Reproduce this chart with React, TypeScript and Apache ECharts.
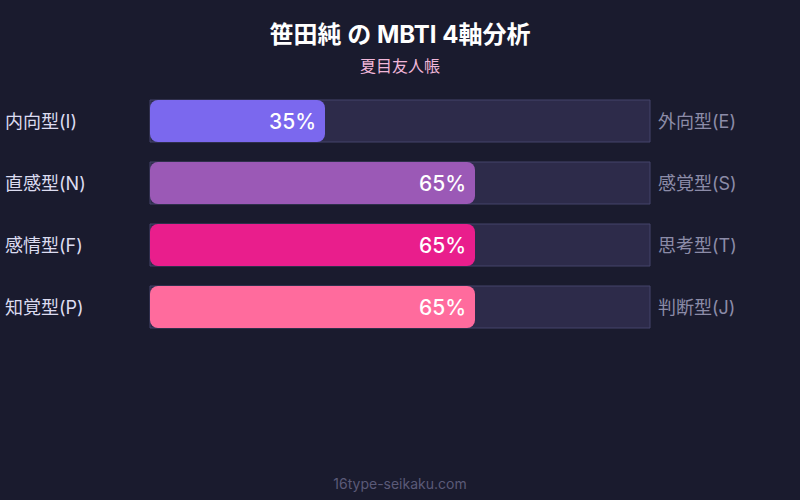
import { useEffect, useRef } from 'react';
import * as echarts from 'echarts';

const leftLabels = ['内向型(I)', '直感型(N)', '感情型(F)', '知覚型(P)'];
const rightLabels = ['外向型(E)', '感覚型(S)', '思考型(T)', '判断型(J)'];
const values = [35, 65, 65, 65];
const barColors = ['#7b68ee', '#9b59b6', '#e91e8c', '#ff6b9d'];

const FONT = "Inter, 'Noto Sans CJK JP', 'Noto Sans', sans-serif";

export default function App() {
  const ref = useRef<HTMLDivElement>(null);

  useEffect(() => {
    if (!ref.current) return;
    const chart = echarts.init(ref.current, null, { renderer: 'svg' });

    chart.setOption({
      animation: false,
      backgroundColor: '#1a1b2e',
      textStyle: { fontFamily: FONT },
      title: {
        text: '笹田純 の MBTI 4軸分析',
        subtext: '夏目友人帳',
        left: 'center',
        top: 17,
        itemGap: 12,
        textStyle: { color: '#ffffff', fontSize: 24, fontWeight: 'bold', fontFamily: FONT },
        subtextStyle: { color: '#f0b6d8', fontSize: 16, fontFamily: FONT },
      },
      graphic: [
        {
          type: 'text',
          left: 'center',
          top: 476,
          style: { text: '16type-seikaku.com', fill: '#5a5a78', fontSize: 14, fontFamily: FONT },
        },
      ],
      grid: { left: 150, right: 150, top: 90, height: 248 },
      xAxis: { type: 'value', min: 0, max: 100, show: false },
      yAxis: [
        {
          type: 'category',
          data: leftLabels,
          inverse: true,
          position: 'left',
          axisLine: { show: false },
          axisTick: { show: false },
          axisLabel: { color: '#dcdcf0', fontSize: 18, align: 'left', margin: 145, fontFamily: FONT },
        },
        {
          type: 'category',
          data: rightLabels,
          inverse: true,
          position: 'right',
          axisLine: { show: false },
          axisTick: { show: false },
          axisLabel: { color: '#8c8ca8', fontSize: 18, align: 'left', margin: 8, fontFamily: FONT },
        },
      ],
      series: [
        {
          type: 'bar',
          yAxisIndex: 0,
          barWidth: 42,
          data: values.map((v, i) => ({ value: v, itemStyle: { color: barColors[i] } })),
          itemStyle: { borderRadius: 8 },
          showBackground: true,
          backgroundStyle: { color: '#2d2b4a', borderColor: '#45456a', borderWidth: 1 },
          label: {
            show: true,
            position: 'insideRight',
            distance: 9,
            formatter: '{c}%',
            color: '#ffffff',
            fontSize: 21,
            fontWeight: 500,
            fontFamily: FONT,
          },
        },
      ],
    });

    return () => chart.dispose();
  }, []);

  return <div ref={ref} style={{ position: 'fixed', left: 0, top: 0, width: 800, height: 500 }} />;
}
